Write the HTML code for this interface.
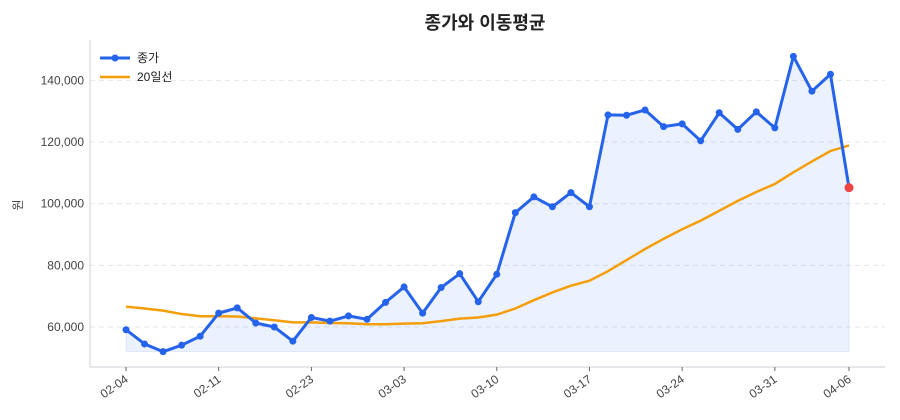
<!DOCTYPE html>
<html><head><meta charset="utf-8"><style>
body{margin:0;background:#fff;}
svg{display:block;font-family:"Liberation Sans","Noto Sans CJK KR",sans-serif;}
</style></head><body>
<svg id="chart" width="900" height="420">
<text x="485" y="29" text-anchor="middle" font-size="18" font-weight="bold" fill="#222">종가와 이동평균</text>
<text transform="translate(22,205) rotate(-90)" text-anchor="middle" font-size="12" fill="#444">원</text>
<g id="grid"></g><g id="area"></g><g id="lines"></g><g id="axes"></g>
<g>
<line x1="100" y1="58" x2="130" y2="58" stroke="#2563eb" stroke-width="3"/>
<circle cx="115" cy="58" r="3.5" fill="#2563eb"/>
<text x="137" y="62" font-size="12" fill="#222">종가</text>
<line x1="100" y1="77" x2="130" y2="77" stroke="#f59e0b" stroke-width="2.5"/>
<text x="137" y="81" font-size="12" fill="#222">20일선</text>
</g>
</svg>
<script>
const closes=[59100,54500,52000,54100,57000,64500,66200,61300,60000,55400,63100,61900,63600,62500,68000,73000,64500,72800,77300,68200,77100,97100,102200,99000,103600,99000,128800,128700,130400,125000,125900,120400,129500,124100,129800,124600,147800,136500,142000,105200];
const ma20=[66600,66000,65300,64200,63500,63500,63400,62800,62200,61500,61500,61300,61200,60900,60900,61100,61200,61900,62700,63100,64000,66000,68700,71200,73400,75000,78100,81700,85300,88600,91700,94500,97700,100900,103800,106400,110200,113700,117100,118900];
const tickIdx=[0,5,10,15,20,25,30,35,39];
const tickLabels=["02-04","02-11","02-23","03-03","03-10","03-17","03-24","03-31","04-06"];
const yTicks=[60000,80000,100000,120000,140000];
const NS="http://www.w3.org/2000/svg";
const n=closes.length;
function x(i){return 126+i*(723/(n-1));}
function y(v){return 327-(v-60000)*61.65/20000;}
function mk(tag,attrs,parent){const e=document.createElementNS(NS,tag);for(const k in attrs)e.setAttribute(k,attrs[k]);document.getElementById(parent).appendChild(e);return e;}
yTicks.forEach(v=>{
 const g=mk('line',{x1:90,x2:885,y1:y(v),y2:y(v),stroke:'#e2e5ea','stroke-dasharray':'5,4'},'grid');
 
 
 const t=mk('text',{x:84,y:y(v)+4,'text-anchor':'end','font-size':12,fill:'#444'},'axes');
 t.textContent=v.toLocaleString('en-US');
 
 
});
const minV=Math.min(...closes);
let d='M'+x(0)+','+y(minV);
closes.forEach((v,i)=>{d+=' L'+x(i)+','+y(v);});
d+=' L'+x(n-1)+','+y(minV)+' Z';
const a=mk('path',{d:d,fill:'#2563eb','fill-opacity':0.09,stroke:'#2563eb','stroke-opacity':0.1},'area');


const mp=mk('polyline',{points:ma20.map((v,i)=>x(i)+','+y(v)).join(' '),fill:'none',stroke:'#f59e0b','stroke-width':2.5},'lines');


const cp=mk('polyline',{points:closes.map((v,i)=>x(i)+','+y(v)).join(' '),fill:'none',stroke:'#2563eb','stroke-width':3,'stroke-linejoin':'round'},'lines');


closes.forEach((v,i)=>{
 const last=i===n-1;
 const c=mk('circle',{cx:x(i),cy:y(v),r:last?4.5:3.5,fill:last?'#ef4444':'#2563eb'},'lines');
 
 
});
const l1=mk('line',{x1:90,x2:90,y1:40,y2:367,stroke:'#d5d8dd','stroke-width':1.2},'axes');


const l2=mk('line',{x1:90,x2:885,y1:367,y2:367,stroke:'#d5d8dd','stroke-width':1.2},'axes');


tickIdx.forEach((ti,k)=>{
 const tk=mk('line',{x1:x(ti),x2:x(ti),y1:367,y2:371,stroke:'#666'},'axes');
 
 
 const t=mk('text',{transform:'translate('+(x(ti)+3)+',381) rotate(-35)','text-anchor':'end','font-size':12,fill:'#444'},'axes');
 t.textContent=tickLabels[k];
 
 
});
</script>
</body></html>
